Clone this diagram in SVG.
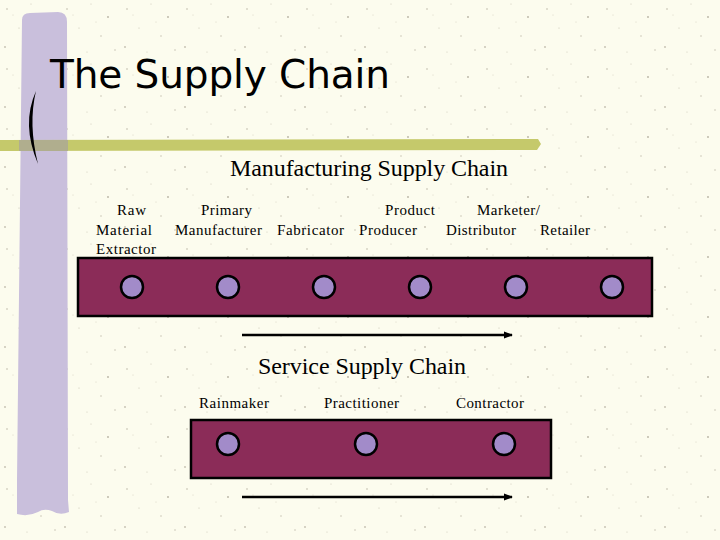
<svg xmlns="http://www.w3.org/2000/svg" width="720" height="540" viewBox="0 0 720 540">
<defs>
<pattern id="speck" width="60" height="60" patternUnits="userSpaceOnUse">
<rect width="60" height="60" fill="#FCFCEE"/>
<circle cx="7" cy="9" r="0.8" fill="#BDB9A8"/>
<circle cx="31" cy="4" r="0.6" fill="#CFCBBB"/>
<circle cx="48" cy="17" r="0.9" fill="#B8B4A4"/>
<circle cx="19" cy="28" r="0.6" fill="#C9C5B5"/>
<circle cx="41" cy="36" r="0.7" fill="#BFBBAB"/>
<circle cx="5" cy="47" r="0.9" fill="#C4C0B0"/>
<circle cx="27" cy="52" r="0.6" fill="#D0CCBC"/>
<circle cx="55" cy="50" r="0.7" fill="#BDB9A9"/>
<circle cx="13" cy="15" r="0.5" fill="#D3CFBF"/>
<circle cx="36" cy="22" r="0.5" fill="#D3CFBF"/>
</pattern>
<marker id="arrow" viewBox="0 0 10 10" refX="9" refY="5" markerWidth="9" markerHeight="9" markerUnits="userSpaceOnUse" orient="auto">
<path d="M0,1 L10,5 L0,9 Z" fill="#000"/>
</marker>
<style>
.lbl{font-family:"Liberation Serif","Times New Roman",serif;font-size:15px;fill:#000}
.head{font-family:"Liberation Serif","Times New Roman",serif;font-size:24px;fill:#000}
.band{fill:#8B2C58;stroke:#000;stroke-width:2.5}
.node{fill:#A28BC9;stroke:#000;stroke-width:2.5}
.flow{stroke:#000;stroke-width:2.5;fill:none;marker-end:url(#arrow)}
</style>
</defs>
<rect width="720" height="540" fill="url(#speck)"/>
<path d="M22,20 Q22,13 30,13 L58,12 Q67,12 67,22 L68,500 L69,512 Q60,516 52,511 Q44,508 38,512 Q28,517 17,514 L17,480 Z" fill="#C9BFDC"/>
<path d="M0,140 L538,139 L541,144 L537,150 L0,151 Z" fill="#C5C96B"/>
<rect x="19" y="140" width="49" height="11" fill="#B0AE8E"/>
<path d="M36,91 Q21,124 38,164 Q28,124 36,91 Z" fill="#000"/>
<text x="50" y="88" font-family="'DejaVu Sans','Comic Sans MS',sans-serif" font-size="39" textLength="340" fill="#000">The Supply Chain</text>
<text class="head" x="230" y="176" textLength="278">Manufacturing Supply Chain</text>
<text class="head" x="258" y="374" textLength="208">Service Supply Chain</text>
<g id="connectors">
<line class="flow" x1="242" y1="335" x2="512" y2="335"/>
<line class="flow" x1="242" y1="497" x2="512" y2="497"/>
</g>
<g id="manufacturing-band"><rect class="band" x="78" y="258" width="574" height="58"/></g>
<g id="raw-material-extractor">
<text class="lbl" x="117" y="215" textLength="29">Raw</text>
<text class="lbl" x="96" y="235" textLength="56">Material</text>
<text class="lbl" x="96" y="254" textLength="60">Extractor</text>
<circle class="node" cx="132" cy="287" r="11"/>
</g>
<g id="primary-manufacturer">
<text class="lbl" x="201" y="215" textLength="51">Primary</text>
<text class="lbl" x="175" y="235" textLength="87">Manufacturer</text>
<circle class="node" cx="228" cy="287" r="11"/>
</g>
<g id="fabricator">
<text class="lbl" x="277" y="235" textLength="67">Fabricator</text>
<circle class="node" cx="324" cy="287" r="11"/>
</g>
<g id="product-producer">
<text class="lbl" x="385" y="215" textLength="50">Product</text>
<text class="lbl" x="359" y="235" textLength="58">Producer</text>
<circle class="node" cx="420" cy="287" r="11"/>
</g>
<g id="marketer-distributor">
<text class="lbl" x="477" y="215" textLength="63">Marketer/</text>
<text class="lbl" x="446" y="235" textLength="70">Distributor</text>
<circle class="node" cx="516" cy="287" r="11"/>
</g>
<g id="retailer">
<text class="lbl" x="540" y="235" textLength="50">Retailer</text>
<circle class="node" cx="612" cy="287" r="11"/>
</g>
<g id="service-band"><rect class="band" x="191" y="420" width="360" height="58"/></g>
<g id="rainmaker">
<text class="lbl" x="199" y="408" textLength="70">Rainmaker</text>
<circle class="node" cx="228" cy="444" r="11"/>
</g>
<g id="practitioner">
<text class="lbl" x="324" y="408" textLength="75">Practitioner</text>
<circle class="node" cx="366" cy="444" r="11"/>
</g>
<g id="contractor">
<text class="lbl" x="456" y="408" textLength="68">Contractor</text>
<circle class="node" cx="504" cy="444" r="11"/>
</g>
</svg>
